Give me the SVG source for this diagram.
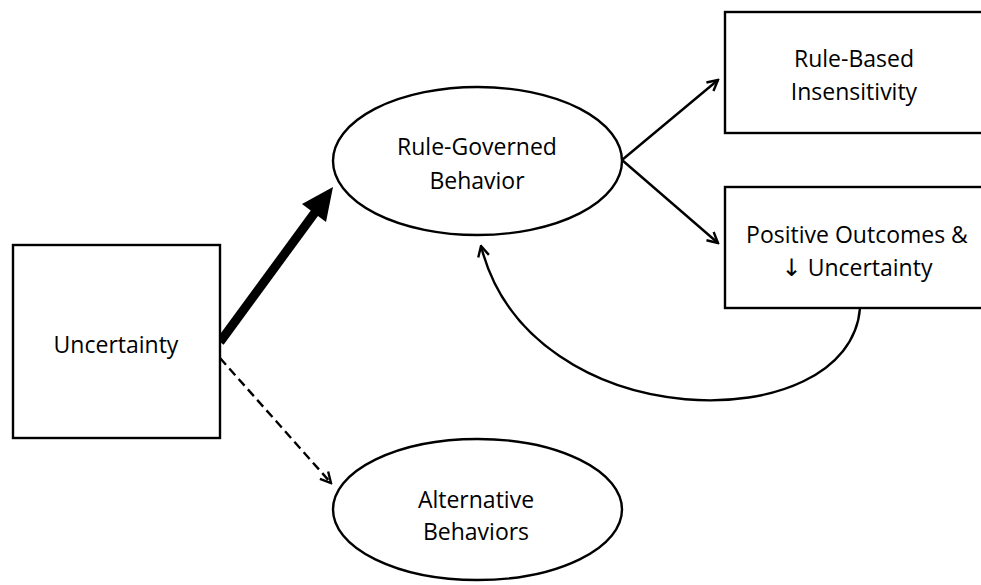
<svg xmlns="http://www.w3.org/2000/svg" width="981" height="585" viewBox="0 0 981 585">
<style>
.box{fill:#fff;stroke:#000;stroke-width:2.4}
.lbl{font-family:"Open Sans","Noto Sans",sans-serif;font-size:23px;fill:#000;text-anchor:middle}
.arr{font-family:"DejaVu Sans",sans-serif;font-size:24px}
.con{fill:none;stroke:#000;stroke-width:2.4}
</style>
<defs>
<marker id="open" viewBox="0 0 14 14" refX="12.5" refY="7" markerWidth="14" markerHeight="14" markerUnits="userSpaceOnUse" orient="auto">
<path d="M2,1.5 L12.5,7 L2,12.5" fill="none" stroke="#000" stroke-width="2.4"/>
</marker>
</defs>
<rect width="981" height="585" fill="#fff"/>
<g id="connectors">
<line class="con" x1="220" y1="358" x2="331" y2="483" stroke-dasharray="9,5" marker-end="url(#open)"/>
<line class="con" x1="622" y1="160" x2="718" y2="80" marker-end="url(#open)"/>
<line class="con" x1="622" y1="160" x2="718" y2="243" marker-end="url(#open)"/>
<path class="con" d="M860,308 C850,440 530,440 481,246" marker-end="url(#open)"/>
<g id="thick-arrow">
<line x1="220" y1="342" x2="316" y2="211" stroke="#000" stroke-width="9"/>
<polygon points="333,187 302,204 326,222" fill="#000"/>
</g>
</g>
<g id="uncertainty">
<rect class="box" x="13" y="245" width="207" height="193"/>
<text class="lbl" x="116" y="353">Uncertainty</text>
</g>
<g id="rule-governed">
<ellipse class="box" cx="477.5" cy="161" rx="144.5" ry="74"/>
<text class="lbl" x="477" y="155">Rule-Governed</text>
<text class="lbl" x="477" y="189">Behavior</text>
</g>
<g id="alternative">
<ellipse class="box" cx="477.5" cy="509.5" rx="144.5" ry="70.5"/>
<text class="lbl" x="476" y="508">Alternative</text>
<text class="lbl" x="476" y="540">Behaviors</text>
</g>
<g id="insensitivity">
<rect class="box" x="725" y="12" width="270" height="121"/>
<text class="lbl" x="854" y="67">Rule-Based</text>
<text class="lbl" x="854" y="100">Insensitivity</text>
</g>
<g id="positive">
<rect class="box" x="725" y="187" width="270" height="121"/>
<text class="lbl" x="857" y="243">Positive Outcomes &amp;</text>
<text class="lbl" x="857" y="276"><tspan class="arr">↓</tspan> Uncertainty</text>
</g>
</svg>
